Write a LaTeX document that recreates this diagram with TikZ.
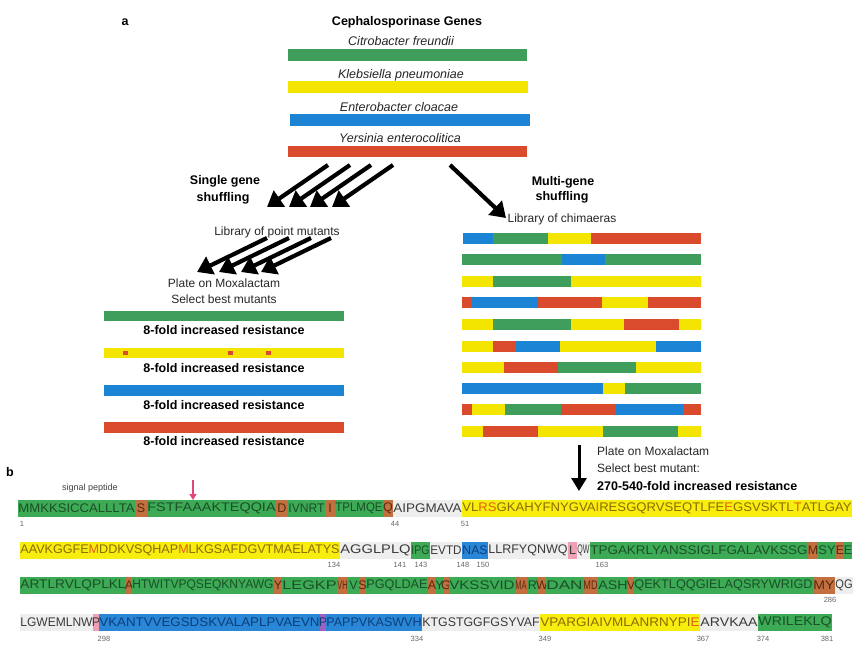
\documentclass[tikz,border=0pt]{standalone}
\usepackage{fontspec}
\setmainfont{Liberation Sans}
\usepackage{graphicx}
\usetikzlibrary{arrows.meta}
\definecolor{cg}{HTML}{409E5C}
\definecolor{cy}{HTML}{F3E500}
\definecolor{cb}{HTML}{1C84D4}
\definecolor{cr}{HTML}{DA4A2C}
\definecolor{sG}{HTML}{3DAA55}
\definecolor{sY}{HTML}{F7EE10}
\definecolor{sB}{HTML}{2A86D6}
\definecolor{sR}{HTML}{C2703F}
\definecolor{sW}{HTML}{EEEEEE}
\definecolor{sP}{HTML}{F0A0B4}
\definecolor{sV}{HTML}{A060C0}
\definecolor{tG}{HTML}{1B4F28}
\definecolor{tY}{HTML}{8B6B00}
\definecolor{tB}{HTML}{0B3F7A}
\definecolor{tR}{HTML}{5A2A10}
\definecolor{tW}{HTML}{3A3A3A}
\definecolor{oL}{HTML}{E0600F}
\definecolor{pk}{HTML}{E0457B}
\newcommand{\seqf}{\fontsize{12.5}{14}\selectfont}
\newcommand{\mutl}[1]{\textcolor{oL}{#1}}
\newcounter{nd}
\newcommand{\sq}[6]{%
  \stepcounter{nd}%
  \fill[#4] (#1,#3-8.5) rectangle (#2,#3+8.5);
  \node[inner sep=0pt,text=#5] (sq\arabic{nd}) at ({(#1+#2)/2},#3) {\resizebox{\dimexpr #2pt-#1pt-0.8pt\relax}{\height}{\seqf #6}};
}
\newcommand{\sqc}[6]{%
  \stepcounter{nd}%
  \fill[#4] (#1,#3-8.5) rectangle (#2,#3+8.5);
  \node[inner sep=0pt,text=#5] (sq\arabic{nd}) at ({(#1+#2)/2},#3) {\seqf #6};
}
\newcommand{\cs}[4]{\fill[#1] ({455+#2/3},#4-5.5) rectangle ({455+#3/3},#4+5.5);}
\tikzset{
  lab/.style={inner sep=0pt, font=\fontsize{12}{14}\selectfont, text=black!85},
  blab/.style={inner sep=0pt, font=\fontsize{12.5}{15}\bfseries\selectfont},
  glab/.style={inner sep=0pt, font=\fontsize{12.5}{15}\itshape\selectfont, text=black!85},
  numl/.style={inner sep=0pt, font=\fontsize{7.5}{9}\selectfont, text=black!60},
  bigarrow/.style={line width=4.2pt, -{Triangle[length=15pt,width=19pt]}},
  pkarrow/.style={pk, line width=1.4pt, -{Triangle[length=6pt,width=7pt]}},
}
\begin{document}
\begin{tikzpicture}[x=1pt,y=-1pt]
\useasboundingbox (0,0) rectangle (865,649);
% ---------- panel a ----------
\node[blab] (pa) at (125,22) {a};
\node[blab] (title) at (407,22) {Cephalosporinase Genes};
\node[glab] (g1) at (401,41) {Citrobacter freundii};
\fill[cg] (288,49) rectangle (527,61);
\node[glab] (g2) at (401,75) {Klebsiella pneumoniae};
\fill[cy] (288,81) rectangle (528,93);
\node[glab] (g3) at (399,107) {Enterobacter cloacae};
\fill[cb] (290,114) rectangle (530,126);
\node[glab] (g4) at (400,138) {Yersinia enterocolitica};
\fill[cr] (288,146) rectangle (527,157);

% single gene arrows
\foreach \i/\xs in {1/328,2/350,3/371,4/393}{
  \coordinate (sa\i) at (\xs,165);
  \coordinate (sb\i) at (\xs-61,207);
  \draw[bigarrow] (sa\i) -- (sb\i);
}
\node[blab] (sg1) at (225,181) {Single gene};
\node[blab] (sg2) at (223,198) {shuffling};
\node[lab] (lpm) at (277,232) {Library of point mutants};
\foreach \i/\xs in {1/267,2/289,3/311,4/331}{
  \coordinate (ta\i) at (\xs,238);
  \coordinate (tb\i) at (\xs-70,272);
  \draw[bigarrow] (ta\i) -- (tb\i);
}
\node[lab] (pm1) at (224,283) {Plate on Moxalactam};
\node[lab] (pm2) at (224,299) {Select best mutants};

% multi-gene arrow
\coordinate (ma) at (450,165);
\coordinate (mb) at (506,218);
\draw[bigarrow] (ma) -- (mb);
\node[blab] (mg1) at (563,182) {Multi-gene};
\node[blab] (mg2) at (562,197) {shuffling};
\node[lab] (lch) at (562,219) {Library of chimaeras};

% left result bars
\fill[cg] (104,311) rectangle (344,321);
\node[blab] (r1) at (224,330) {8-fold increased resistance};
\fill[cy] (104,348) rectangle (344,358);
\fill[cr] (123,351) rectangle (128,355);
\fill[cr] (228,351) rectangle (233,355);
\fill[cr] (266,351) rectangle (271,355);
\node[blab] (r2) at (224,368) {8-fold increased resistance};
\fill[cb] (104,385) rectangle (344,396);
\node[blab] (r3) at (224,405) {8-fold increased resistance};
\fill[cr] (104,422) rectangle (344,433);
\node[blab] (r4) at (224,441) {8-fold increased resistance};

% chimeras
\foreach \c/\a/\b in {cb/25/115,cg/115/280,cy/280/408,cr/408/738}{\cs{\c}{\a}{\b}{238}}
\foreach \c/\a/\b in {cg/20/320,cb/320/450,cg/450/738}{\cs{\c}{\a}{\b}{259}}
\foreach \c/\a/\b in {cy/20/115,cg/115/347,cy/347/738}{\cs{\c}{\a}{\b}{281}}
\foreach \c/\a/\b in {cr/20/50,cb/50/250,cr/250/440,cy/440/578,cr/578/738}{\cs{\c}{\a}{\b}{302}}
\foreach \c/\a/\b in {cy/20/115,cg/115/347,cy/347/507,cr/507/672,cy/672/738}{\cs{\c}{\a}{\b}{324}}
\foreach \c/\a/\b in {cy/20/115,cr/115/182,cb/182/315,cy/315/603,cb/603/738}{\cs{\c}{\a}{\b}{346}}
\foreach \c/\a/\b in {cy/20/148,cr/148/310,cg/310/543,cy/543/738}{\cs{\c}{\a}{\b}{367}}
\foreach \c/\a/\b in {cb/20/443,cy/443/510,cg/510/738}{\cs{\c}{\a}{\b}{388}}
\foreach \c/\a/\b in {cr/20/50,cy/50/150,cg/150/317,cr/317/482,cb/482/683,cr/683/738}{\cs{\c}{\a}{\b}{409}}
\foreach \c/\a/\b in {cy/20/85,cr/85/248,cy/248/443,cg/443/670,cy/670/738}{\cs{\c}{\a}{\b}{431}}

% bottom arrow and text
\coordinate (da) at (579,445);
\coordinate (db) at (579,491);
\draw[line width=3pt, -{Triangle[length=13pt,width=15pt]}] (da) -- (db);
\node[lab, anchor=west] (bp1) at (597,451) {Plate on Moxalactam};
\node[lab, anchor=west] (bp2) at (597,468) {Select best mutant:};
\node[blab, anchor=west] (bp3) at (597,486) {270-540-fold increased resistance};

% ---------- panel b ----------
\node[blab] (pb) at (10,472) {b};
\node[inner sep=0pt, font=\fontsize{9}{11}\selectfont, text=black!75] (sp) at (90,488) {signal peptide};
\coordinate (pka) at (193,480);
\coordinate (pkb) at (193,500);
\draw[pkarrow] (pka) -- (pkb);

% line 1
\sq{18}{135}{508}{sG}{tG}{MMKKSICCALLLTA}
\sqc{135}{147}{508}{sR}{tR}{S}
\sq{147}{276}{508}{sG}{tG}{FSTFAAAKTEQQIA}
\sqc{276}{288}{508}{sR}{tR}{D}
\sq{288}{325}{508}{sG}{tG}{IVNRT}
\sqc{325}{335}{508}{sR}{tR}{I}
\sq{335}{383}{508}{sG}{tG}{TPLMQE}
\sqc{383}{393}{508}{sR}{tR}{Q}
\sq{393}{462}{508}{sW}{tW}{AIPGMAVA}
\sq{462}{852}{508}{sY}{tY}{VL\mutl{RS}GKAHYFNYGVA\mutl{I}RESGQRVSEQTLFE\mutl{E}GSVSKTL\mutl{T}ATLGAY}
\node[numl] (n1) at (22,524) {1};
\node[numl] (n44) at (395,524) {44};
\node[numl] (n51) at (465,524) {51};

% line 2
\sq{20}{340}{550}{sY}{tY}{AAVKGGFE\mutl{M}DDKVSQHAP\mutl{M}LKGSAFDGVTMAELATYS}
\sq{340}{411}{550}{sW}{tW}{AGGLPLQ}
\sq{411}{430}{550}{sG}{tG}{IPG}
\sq{430}{462}{550}{sW}{tW}{EVTD}
\sq{462}{488}{550}{sB}{tB}{NAS}
\sq{488}{568}{550}{sW}{tW}{LLRFYQNWQ}
\sqc{568}{577}{550}{sP}{tW}{L}
\sq{577}{590}{550}{sW}{tW}{QW}
\sq{590}{808}{550}{sG}{tG}{TPGAKRLYANSSIGLFGALAVKSSG}
\sqc{808}{818}{550}{sR}{tR}{M}
\sq{818}{836}{550}{sG}{tG}{SY}
\sqc{836}{844}{550}{sR}{tR}{E}
\sqc{844}{852}{550}{sG}{tG}{E}
\node[numl] (n134) at (334,565) {134};
\node[numl] (n141) at (400,565) {141};
\node[numl] (n143) at (421,565) {143};
\node[numl] (n148) at (463,565) {148};
\node[numl] (n150) at (483,565) {150};
\node[numl] (n163) at (602,565) {163};

% line 3
\sq{20}{126}{585}{sG}{tG}{ARTLRVLQPLKL}
\sqc{126}{132}{585}{sR}{tR}{A}
\sq{132}{274}{585}{sG}{tG}{HTWITVPQSEQKNYAWG}
\sqc{274}{282}{585}{sR}{tR}{Y}
\sq{282}{337}{585}{sG}{tG}{LEGKP}
\sq{337}{348}{585}{sR}{tR}{VH}
\sqc{348}{359}{585}{sG}{tG}{V}
\sqc{359}{366}{585}{sR}{tR}{S}
\sq{366}{428}{585}{sG}{tG}{PGQLDAE}
\sqc{428}{436}{585}{sR}{tR}{A}
\sqc{436}{443}{585}{sG}{tG}{Y}
\sqc{443}{449}{585}{sR}{tR}{G}
\sq{449}{515}{585}{sG}{tG}{VKSSVID}
\sq{515}{527}{585}{sR}{tR}{MA}
\sqc{527}{538}{585}{sG}{tG}{R}
\sqc{538}{546}{585}{sR}{tR}{W}
\sq{546}{583}{585}{sG}{tG}{DAN}
\sq{583}{598}{585}{sR}{tR}{MD}
\sq{598}{628}{585}{sG}{tG}{ASH}
\sqc{628}{634}{585}{sR}{tR}{V}
\sq{634}{813}{585}{sG}{tG}{QEKTLQQGIELAQSRYWRIGD}
\sq{813}{835}{585}{sR}{tR}{MY}
\sq{835}{853}{585}{sW}{tW}{QG}
\node[numl] (n286) at (830,600) {286};

% line 4
\sq{20}{93}{622}{sW}{tW}{LGWEMLNW}
\sqc{93}{99}{622}{sP}{tW}{P}
\sq{99}{320}{622}{sB}{tB}{VKANTVVEGSDSKVALAPLPVAEVN}
\sqc{320}{326}{622}{sV}{tB}{P}
\sq{326}{422}{622}{sB}{tB}{PAPPVKASWVH}
\sq{422}{540}{622}{sW}{tW}{KTGSTGGFGSYVAF}
\sq{540}{700}{622}{sY}{tY}{VPARGIAIVMLANRNYPI\mutl{E}}
\sq{700}{758}{622}{sW}{tW}{ARVKAA}
\sq{758}{832}{622}{sG}{tG}{WRILEKLQ}
\node[numl] (n298) at (104,639) {298};
\node[numl] (n334) at (417,639) {334};
\node[numl] (n349) at (545,639) {349};
\node[numl] (n367) at (703,639) {367};
\node[numl] (n374) at (763,639) {374};
\node[numl] (n381) at (827,639) {381};
\end{tikzpicture}
\end{document}
